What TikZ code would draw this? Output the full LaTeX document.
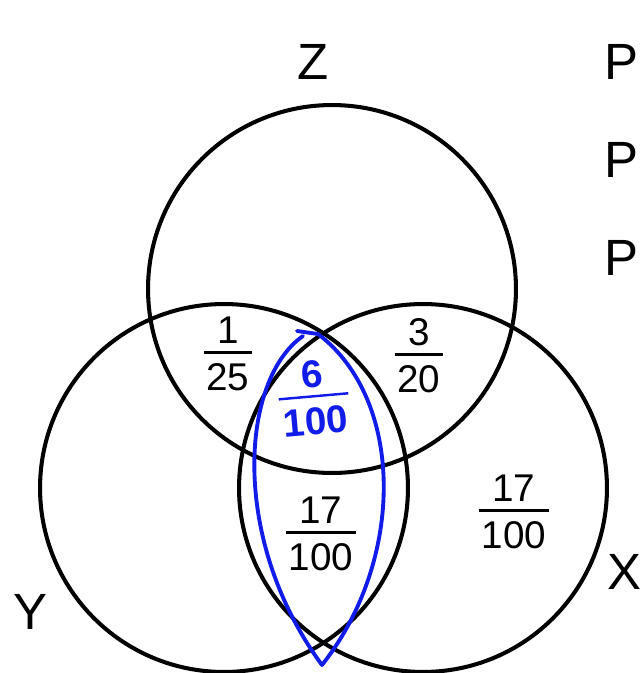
\documentclass[tikz,border=0pt]{standalone}
\usepackage{fontspec}
\setmainfont{Liberation Sans}
\definecolor{penblue}{RGB}{18,28,232}

\setlength{\arrayrulewidth}{1.4pt}
\newcommand{\frc}[2]{\begin{tabular}{@{\hspace{1.5pt}}c@{\hspace{1.5pt}}}#1\\[-3pt]\hline\rule{0pt}{21pt}#2\end{tabular}}

\begin{document}
\begin{tikzpicture}[x=0.02cm,y=-0.02cm,
    ring/.style={circle,draw=black,line width=2.3pt,minimum size=7.36cm,inner sep=0pt},
    setname/.style={font=\fontsize{29}{32}\selectfont,inner sep=0pt},
    prob/.style={font=\fontsize{22}{25}\selectfont,inner sep=0pt},
    pen/.style={draw=penblue,line width=2.2pt,line cap=round,line join=round}]
  \useasboundingbox (0,0) rectangle (641,673);
  % the three sets
  \node[ring] (z) at (332,289) {};
  \node[ring] (y) at (224,488) {};
  \node[ring] (x) at (423,488) {};
  \node[setname] (zl) at (313,62) {Z};
  \node[setname] (yl) at (30,612) {Y};
  \node[setname] (xl) at (624,572) {X};
  \node[setname] (p1) at (621,62) {P};
  \node[setname] (p2) at (621,160) {P};
  \node[setname] (p3) at (621,258) {P};
  % probabilities
  \node[prob] (zy) at (228,358) {\frc{1}{25}};
  \node[prob] (zx) at (419,360) {\frc{3}{20}};
  \node[prob] (yx) at (321,538) {\frc{17}{100}};
  \node[prob] (xo) at (514,516) {\frc{17}{100}};
  % pen marks
  \node[prob,text=penblue,font=\fontsize{22}{25}\selectfont\bfseries,rotate=5] (zyx) at (314,402) {\frc{6}{100}};
  \draw[pen] (297,331) -- (318,334) .. controls (405,400) and (405,560) .. (322,665)
    .. controls (230,540) and (240,380) .. (303,336);
\end{tikzpicture}
\end{document}
